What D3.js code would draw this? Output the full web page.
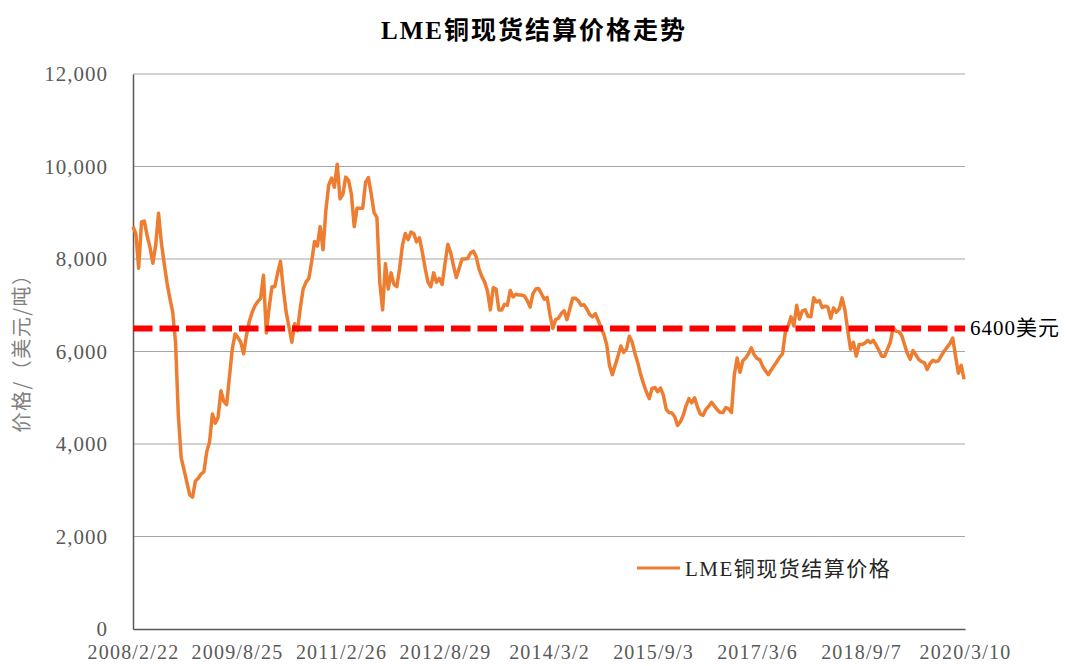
<!DOCTYPE html>
<html>
<head>
<meta charset="utf-8">
<script src="https://cdn.jsdelivr.net/npm/d3@7"></script>
<style>
  body { margin: 0; background: #fff; }
  text { font-family: "Liberation Serif", "Noto Sans CJK SC", serif; }
</style>
</head>
<body>
<div id="chart"></div>
<script>
// LME copper cash settlement price, every 15 days from 2008/2/22
const startDate = new Date(2008, 1, 22);
const endDate = new Date(2020, 2, 10);
const stepDays = 15;
const prices = [
  8700, 8550, 7800, 8800, 8820, 8500, 8250, 7910, 8300, 8990,
  8350, 7900, 7480, 7150, 6850, 6200, 4600, 3700, 3440, 3170,
  2900, 2850, 3200, 3260, 3350, 3400, 3830, 4050, 4650, 4450,
  4580, 5150, 4920, 4850, 5450, 6050, 6380, 6300, 6200, 5950,
  6350, 6650, 6850, 6990, 7080, 7150, 7650, 6400, 6950, 7400,
  7400, 7700, 7950, 7350, 6850, 6530, 6200, 6600, 6450, 6950,
  7350, 7500, 7580, 7950, 8380, 8280, 8700, 8200, 9050, 9600,
  9750, 9550, 10050, 9300, 9400, 9770, 9700, 9400, 8700, 9100,
  9100, 9100, 9660, 9760, 9400, 9000, 8900, 7500, 6900, 7900,
  7350, 7700, 7450, 7400, 7800, 8300, 8550, 8420, 8580, 8550,
  8370, 8460, 8150, 7800, 7500, 7400, 7700, 7500, 7580, 7450,
  7900, 8320, 8140, 7850, 7600, 7800, 8000, 8000, 8010, 8130,
  8170, 8050, 7780, 7620, 7500, 7300, 6900, 7380, 7350, 6900,
  6900, 7020, 7000, 7320, 7180, 7240, 7220, 7220, 7200, 7100,
  6960, 7250, 7350, 7360, 7250, 7130, 7170, 6800, 6500, 6690,
  6720, 6820, 6880, 6690, 6920, 7150, 7150, 7100, 7000, 7010,
  6920, 6800, 6750, 6820, 6670, 6520, 6370, 6150, 5700, 5500,
  5700, 5900, 6120, 5980, 6050, 6330, 6200, 5950, 5750, 5500,
  5300, 5130, 4980, 5200, 5220, 5130, 5210, 5050, 4750, 4680,
  4670, 4590, 4400, 4480, 4620, 4830, 4980, 4890, 5000, 4800,
  4650, 4620, 4750, 4820, 4900, 4820, 4740, 4680, 4680, 4790,
  4760, 4680, 5500, 5860, 5550, 5800, 5860, 5950, 6080, 5930,
  5850, 5820, 5680, 5580, 5500, 5600, 5690, 5780, 5880, 5950,
  6420, 6550, 6750, 6550, 7000, 6700, 6880, 6900, 6760, 6750,
  7160, 7070, 7100, 6950, 6980, 6960, 6720, 6940, 6850, 6920,
  7160, 6900, 6450, 6050, 6200, 5900, 6150, 6150, 6180, 6240,
  6190, 6240, 6140, 6020, 5900, 5900, 6050, 6200, 6520, 6440,
  6430, 6350, 6150, 5960, 5830, 6020, 5930, 5830, 5780, 5760,
  5610, 5740, 5810, 5780, 5800, 5910, 6010, 6090, 6170, 6290,
  5900, 5530, 5700, 5400
];
const yTicks = [0, 2000, 4000, 6000, 8000, 10000, 12000];
const xTickLabels = ['2008/2/22', '2009/8/25', '2011/2/26', '2012/8/29', '2014/3/2',
  '2015/9/3', '2017/3/6', '2018/9/7', '2020/3/10'];
const refPrice = 6500;
const refLabel = '6400美元';
const seriesName = 'LME铜现货结算价格';
const chartTitle = 'LME铜现货结算价格走势';
const yTitle = '价格/（美元/吨）';

const W = 1068, H = 666;
const margin = { top: 74, right: 103, bottom: 37, left: 133 };
const width = W - margin.left - margin.right;
const height = H - margin.top - margin.bottom;

const parseTick = d3.timeParse('%Y/%m/%d');
const data = prices.map((p, i) => ({ date: d3.timeDay.offset(startDate, i * stepDays), price: p }));

const x = d3.scaleTime().domain([startDate, endDate]).range([0, width]);
const y = d3.scaleLinear().domain([0, 12000]).range([height, 0]);

const svg = d3.select('#chart').append('svg')
  .attr('width', W)
  .attr('height', H);

svg.append('text')
  .attr('x', 534)
  .attr('y', 39)
  .attr('text-anchor', 'middle')
  .attr('font-size', 25)
  .attr('font-weight', 'bold')
  .attr('letter-spacing', 2)
  .attr('fill', '#000')
  .text(chartTitle);

svg.append('text')
  .attr('transform', 'translate(29, 348) rotate(-90)')
  .attr('text-anchor', 'middle')
  .attr('font-size', 20)
  .attr('letter-spacing', 1.5)
  .attr('fill', '#808080')
  .style('font-family', '"Noto Sans CJK SC", sans-serif')
  .text(yTitle);

const g = svg.append('g')
  .attr('transform', `translate(${margin.left}, ${margin.top})`);

// grid
g.append('g')
  .selectAll('line')
  .data(yTicks.filter(t => t > 0))
  .enter()
  .append('line')
  .attr('x1', 0)
  .attr('x2', width)
  .attr('y1', d => y(d))
  .attr('y2', d => y(d))
  .attr('stroke', '#a6a6a6')
  .attr('stroke-width', 1.2);

const yAxis = d3.axisLeft(y)
  .tickValues(yTicks)
  .tickSize(0)
  .tickPadding(25)
  .tickFormat(d3.format(','));

g.append('g')
  .call(yAxis)
  .call(a => a.select('.domain').attr('stroke', '#595959').attr('stroke-width', 1.5))
  .call(a => a.selectAll('text')
    .attr('font-size', 21)
    .attr('letter-spacing', 1)
    .attr('fill', '#595959')
    .style('font-family', '"Liberation Serif", serif'));

const xAxis = d3.axisBottom(x)
  .tickValues(xTickLabels.map(parseTick))
  .tickSize(0)
  .tickPadding(16)
  .tickFormat((d, i) => xTickLabels[i]);

g.append('g')
  .attr('transform', `translate(0, ${height})`)
  .call(xAxis)
  .call(a => a.select('.domain').attr('stroke', '#595959').attr('stroke-width', 1.5))
  .call(a => a.selectAll('text')
    .attr('font-size', 20)
    .attr('letter-spacing', 1.2)
    .attr('fill', '#595959')
    .style('font-family', '"Liberation Serif", serif'));

const line = d3.line()
  .x(d => x(d.date))
  .y(d => y(d.price));

g.append('path')
  .datum(data)
  .attr('fill', 'none')
  .attr('stroke', '#ed7d31')
  .attr('stroke-width', 3.5)
  .attr('stroke-linejoin', 'round')
  .attr('d', line);

// reference level
g.append('line')
  .attr('x1', 0)
  .attr('x2', width)
  .attr('y1', y(refPrice))
  .attr('y2', y(refPrice))
  .attr('stroke', '#ff0000')
  .attr('stroke-width', 6)
  .attr('stroke-dasharray', '19.5 7');

g.append('text')
  .attr('x', width + 5)
  .attr('y', y(refPrice) + 7)
  .attr('font-size', 21)
  .attr('letter-spacing', 1)
  .attr('fill', '#000')
  .text(refLabel);

// legend
const legend = g.append('g')
  .attr('transform', `translate(${637 - margin.left}, ${568 - margin.top})`);

legend.append('line')
  .attr('x1', 0)
  .attr('x2', 43)
  .attr('stroke', '#ed7d31')
  .attr('stroke-width', 3);

legend.append('text')
  .attr('x', 48)
  .attr('y', 8)
  .attr('font-size', 21)
  .attr('letter-spacing', 1.5)
  .attr('fill', '#262626')
  .text(seriesName);
</script>
</body>
</html>
